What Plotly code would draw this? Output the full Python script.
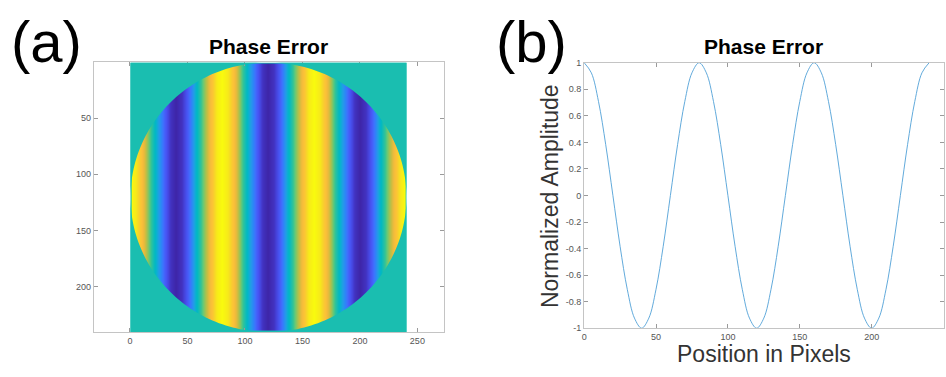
import numpy as np
import plotly.graph_objects as go

# ---- data ----
position_px = list(range(0, 241, 5))
amplitude = [
    1.0, 0.924, 0.707, 0.383, 0.0, -0.383, -0.707, -0.924,
    -1.0, -0.924, -0.707, -0.383, 0.0, 0.383, 0.707, 0.924,
    1.0, 0.924, 0.707, 0.383, 0.0, -0.383, -0.707, -0.924,
    -1.0, -0.924, -0.707, -0.383, 0.0, 0.383, 0.707, 0.924,
    1.0, 0.924, 0.707, 0.383, 0.0, -0.383, -0.707, -0.924,
    -1.0, -0.924, -0.707, -0.383, 0.0, 0.383, 0.707, 0.924,
    1.0,
]
image_size = 240
left_xticks = [0, 50, 100, 150, 200, 250]
left_yticks = [50, 100, 150, 200]
right_xticks = [0, 50, 100, 150, 200, 250]
right_yticks = [-1, -0.8, -0.6, -0.4, -0.2, 0, 0.2, 0.4, 0.6, 0.8, 1]
right_yticktext = ["-1", "-0.8", "-0.6", "-0.4", "-0.2", "0", "0.2", "0.4", "0.6", "0.8", "1"]

parula = [
    [0.0, 'rgb(62,38,168)'], [0.0625, 'rgb(69,60,210)'], [0.125, 'rgb(72,85,244)'],
    [0.1875, 'rgb(66,110,254)'], [0.25, 'rgb(45,135,247)'], [0.3125, 'rgb(37,155,232)'],
    [0.375, 'rgb(15,174,213)'], [0.4375, 'rgb(1,185,195)'], [0.5, 'rgb(26,190,176)'],
    [0.5625, 'rgb(52,196,150)'], [0.625, 'rgb(100,201,120)'], [0.6875, 'rgb(150,196,90)'],
    [0.75, 'rgb(200,190,65)'], [0.8125, 'rgb(240,186,60)'], [0.875, 'rgb(253,195,55)'],
    [0.9375, 'rgb(246,222,35)'], [1.0, 'rgb(249,251,14)'],
]
teal = 'rgb(26,190,176)'

W, H = 946, 377
def px(x):
    return x / W
def py(y):
    return 1 - y / H

# heatmap bricks: edges between samples, kept just inside the image extent
xp = np.array(position_px, dtype=float)
edges = np.concatenate([[1.5], (xp[:-1] + xp[1:]) / 2, [image_size - 0.5]])
z = [amplitude, amplitude]

fig = go.Figure()
fig.add_trace(go.Heatmap(
    x=edges, y=[1.5, image_size / 2 + 0.5, image_size - 0.5], z=z,
    colorscale=parula, zmin=-1, zmax=1, zsmooth='best', showscale=False,
    xaxis='x', yaxis='y', hoverinfo='skip'))

fig.add_trace(go.Scatter(
    x=position_px, y=amplitude, mode='lines', line=dict(color='rgb(80,160,215)', width=0.9, shape='spline'),
    xaxis='x2', yaxis='y2', showlegend=False))

# teal backing for the image extent
lo, hi = 0.5, image_size + 0.5
fig.add_shape(type='rect', x0=lo, x1=hi, y0=lo, y1=hi, xref='x', yref='y',
              fillcolor=teal, line=dict(width=0), layer='below')

# circular aperture mask (outside circle = 0 -> teal)
c = image_size / 2 + 0.5
r = image_size / 2
t = np.linspace(0, 2 * np.pi, 241)
circ = " ".join(("M" if i == 0 else "L") + f"{c + r*np.cos(a):.3f},{c + r*np.sin(a):.3f}" for i, a in enumerate(t))
rect = f"M{lo},{lo} L{hi},{lo} L{hi},{hi} L{lo},{hi} Z"
fig.add_shape(type='path', path=rect + " " + circ + " Z", xref='x', yref='y',
              fillcolor=teal, fillrule='evenodd', line=dict(width=0), layer='above')

axis_common = dict(showline=True, linecolor='#c4c4c4', linewidth=1, mirror='ticks',
                   ticks='inside', ticklen=4, tickcolor='#9a9a9a', showgrid=False, zeroline=False,
                   tickfont=dict(family='Liberation Sans, Arial', size=9, color='#555555'))

fig.update_layout(
    width=W, height=H, margin=dict(l=0, r=0, t=0, b=0),
    paper_bgcolor='white', plot_bgcolor='white', showlegend=False,
    xaxis=dict(domain=[px(91), px(442)], range=[-31.5, 272.8], tickvals=left_xticks,
               anchor='y', **axis_common),
    yaxis=dict(domain=[py(336), py(59)], range=[image_size + 0.5, 0.5], tickvals=left_yticks,
               anchor='x', **axis_common),
    xaxis2=dict(domain=[px(583), px(943.5)], range=[0, 250], tickvals=right_xticks,
                anchor='y2', **axis_common),
    yaxis2=dict(domain=[py(332), py(59.3)], range=[-1, 1], tickvals=right_yticks,
                ticktext=right_yticktext, anchor='x2', **axis_common),
)

font_main = 'Liberation Sans, Arial, Helvetica'
ann = [
    dict(text='(a)', x=px(6), y=py(38), xanchor='left', yanchor='middle',
         font=dict(family=font_main, size=58, color='black')),
    dict(text='(b)', x=px(493), y=py(38), xanchor='left', yanchor='middle',
         font=dict(family=font_main, size=58, color='black')),
    dict(text='<b>Phase Error</b>', x=px(266.5), y=py(43), xanchor='center', yanchor='middle',
         font=dict(family=font_main, size=21, color='black')),
    dict(text='<b>Phase Error</b>', x=px(763), y=py(43), xanchor='center', yanchor='middle',
         font=dict(family=font_main, size=21, color='black')),
    dict(text='Normalized Amplitude', x=px(549), y=py(196), xanchor='center', yanchor='middle',
         textangle=-90, font=dict(family=font_main, size=23, color='#333333')),
    dict(text='Position in Pixels', x=px(763), y=py(358), xanchor='center', yanchor='middle',
         font=dict(family=font_main, size=23, color='#333333')),
]
for a in ann:
    fig.add_annotation(xref='paper', yref='paper', showarrow=False, **a)

fig.write_html("out.html", config={'displayModeBar': False},
               post_script="document.body.style.margin='0';document.body.style.overflow='hidden';")
